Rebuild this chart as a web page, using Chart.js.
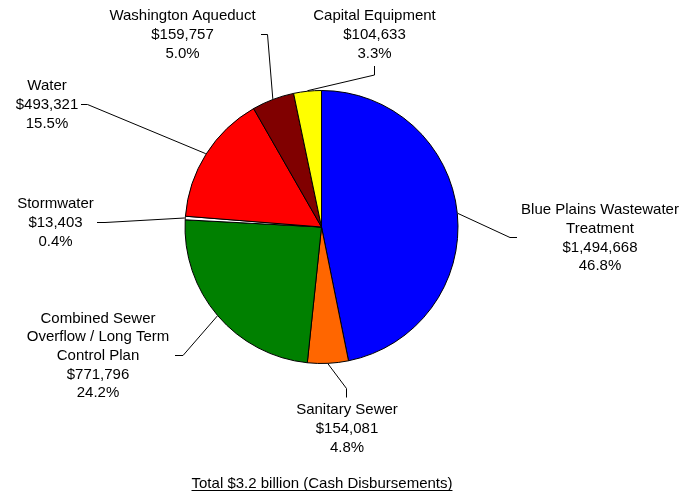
<!DOCTYPE html>
<html>
<head>
<meta charset="utf-8">
<title>Cash Disbursements</title>
<script src="https://cdn.jsdelivr.net/npm/chart.js@4.4.1/dist/chart.umd.min.js"></script>
<style>
  html, body { margin: 0; padding: 0; background: #fff; }
  #wrap { width: 682px; height: 494px; position: relative; }
</style>
</head>
<body>
<div id="wrap"><canvas id="pieChart"></canvas></div>
<script>
// Program names (line breaks as printed), amounts in $ thousands
const programs = [
    'Blue Plains Wastewater\nTreatment',
    'Sanitary Sewer',
    'Combined Sewer\nOverflow / Long Term\nControl Plan',
    'Stormwater',
    'Water',
    'Washington Aqueduct',
    'Capital Equipment'
];
const amounts = [1494668, 154081, 771796, 13403, 493321, 159757, 104633];
const sliceColors = ['#0000ff', '#ff6600', '#008000', '#ffffff', '#ff0000', '#800000', '#ffff00'];
const footerText = 'Total $3.2 billion (Cash Disbursements)';

// where each label sits (centre x, first line y) and the leader line bends
const labelLayout = [
    { x: 600, y: 210, path: [[510, 237.5], [517, 237.5]] },
    { x: 347, y: 410, path: [[346.5, 388.5], [346.5, 397.5]] },
    { x: 98, y: 318.5, path: [[183, 355.5], [175, 355.5]] },
    { x: 55.5, y: 204, path: [[105, 222.5], [97, 222.5]] },
    { x: 47, y: 86, path: [[87.5, 104.5], [81, 104.5]] },
    { x: 182.5, y: 16, path: [[267.5, 34.5], [261, 34.5]] },
    { x: 374.5, y: 16, path: [[374.5, 75], [374.5, 66]] }
];

const FONT = '15px "Liberation Sans", Arial, sans-serif';
const LINE_H = 18.7;

const total = amounts.reduce((a, b) => a + b, 0);

function labelLines(i) {
    const lines = programs[i].split('\n');
    lines.push('$' + amounts[i].toLocaleString('en-US'));
    lines.push((amounts[i] / total * 100).toFixed(1) + '%');
    return lines;
}

// leader lines, slice labels and the underlined total
const sliceLabels = {
    id: 'sliceLabels',
    afterDraw(chart) {
        const ctx = chart.ctx;
        const arcs = chart.getDatasetMeta(0).data;
        ctx.save();
        ctx.strokeStyle = '#000';
        ctx.lineWidth = 1;
        arcs.forEach((arc, i) => {
            const p = arc.getProps(['x', 'y', 'startAngle', 'endAngle', 'outerRadius'], true);
            const mid = (p.startAngle + p.endAngle) / 2;
            const r = p.outerRadius + 0.5;
            const lay = labelLayout[i];
            ctx.beginPath();
            ctx.moveTo(p.x + Math.cos(mid) * r, p.y + Math.sin(mid) * r);
            lay.path.forEach(pt => ctx.lineTo(pt[0], pt[1]));
            ctx.stroke();
        });

        ctx.fillStyle = '#000';
        ctx.font = FONT;
        ctx.textAlign = 'center';
        ctx.textBaseline = 'middle';
        labelLayout.forEach((lay, i) => {
            labelLines(i).forEach((line, j) => {
                ctx.fillText(line, lay.x, lay.y + j * LINE_H);
            });
        });

        // footer
        const fx = 322, fy = 484;
        ctx.fillText(footerText, fx, fy);
        const w = ctx.measureText(footerText).width;
        ctx.beginPath();
        ctx.moveTo(fx - w / 2, 490.5);
        ctx.lineTo(fx + w / 2, 490.5);
        ctx.stroke();
        ctx.restore();
    }
};

new Chart(document.getElementById('pieChart'), {
    type: 'pie',
    data: {
        labels: programs,
        datasets: [{
            data: amounts,
            backgroundColor: sliceColors,
            borderColor: '#000',
            borderWidth: 1
        }]
    },
    options: {
        responsive: true,
        maintainAspectRatio: false,
        devicePixelRatio: 1,
        animation: false,
        layout: {
            padding: { left: 184, right: 223, top: 90, bottom: 130 }
        },
        plugins: {
            legend: { display: false },
            tooltip: { enabled: false }
        }
    },
    plugins: [sliceLabels]
});
</script>
</body>
</html>
